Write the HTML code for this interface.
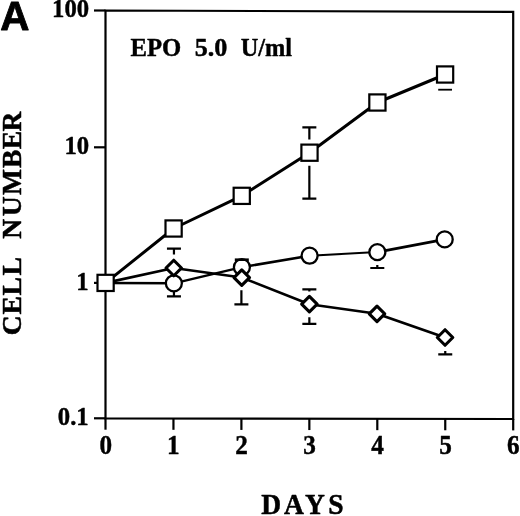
<!DOCTYPE html>
<html><head><meta charset="utf-8"><title>Figure A</title>
<style>html,body{margin:0;padding:0;background:#fff}svg{display:block}</style></head>
<body>
<svg width="520" height="516" viewBox="0 0 520 516">
<rect width="520" height="516" fill="#fff"/>
<polygon points="105.5,10.5 513.2,11.9 513.2,419.0 105.5,418.3" fill="none" stroke="#000" stroke-width="2.2"/>
<line x1="94" x2="105.5" y1="10.50" y2="10.50" stroke="#000" stroke-width="2.2"/>
<line x1="94" x2="105.5" y1="147.30" y2="147.30" stroke="#000" stroke-width="2.2"/>
<line x1="94" x2="105.5" y1="282.90" y2="282.90" stroke="#000" stroke-width="2.2"/>
<line x1="94" x2="105.5" y1="418.30" y2="418.30" stroke="#000" stroke-width="2.2"/>
<line x1="105.50" x2="105.50" y1="418.30" y2="429.70" stroke="#000" stroke-width="2.2"/>
<line x1="173.45" x2="173.45" y1="418.42" y2="429.82" stroke="#000" stroke-width="2.2"/>
<line x1="241.40" x2="241.40" y1="418.53" y2="429.93" stroke="#000" stroke-width="2.2"/>
<line x1="309.35" x2="309.35" y1="418.65" y2="430.05" stroke="#000" stroke-width="2.2"/>
<line x1="377.30" x2="377.30" y1="418.77" y2="430.17" stroke="#000" stroke-width="2.2"/>
<line x1="445.25" x2="445.25" y1="418.88" y2="430.28" stroke="#000" stroke-width="2.2"/>
<line x1="513.20" x2="513.20" y1="419.00" y2="430.40" stroke="#000" stroke-width="2.2"/>
<g font-family="'Liberation Serif', serif" font-weight="bold" font-size="24px" fill="#000" stroke="#000" stroke-width="0.4" stroke-linejoin="round">
<text transform="translate(52.09,17.20) scale(1.03,1.05)">100</text>
<text transform="translate(64.45,153.60) scale(1.03,1.05)">10</text>
<text transform="translate(76.37,289.70) scale(1.03,1.05)">1</text>
<text transform="translate(57.83,424.80) scale(1.03,1.05)">0.1</text>
<text transform="translate(99.40,453.60) scale(1.05,1.1)">0</text>
<text transform="translate(166.96,453.60) scale(1.05,1.1)">1</text>
<text transform="translate(235.30,453.60) scale(1.05,1.1)">2</text>
<text transform="translate(303.25,453.60) scale(1.05,1.1)">3</text>
<text transform="translate(371.20,453.60) scale(1.05,1.1)">4</text>
<text transform="translate(439.15,453.60) scale(1.05,1.1)">5</text>
<text transform="translate(506.97,453.60) scale(1.05,1.1)">6</text>
<text transform="translate(130.54,55.90) scale(1.03,1.04)">EPO</text>
<text transform="translate(194.68,55.90) scale(1.09,1.04)">5.0</text>
<text transform="translate(240.69,55.90) scale(1.015,1.04)">U/ml</text>
</g>
<g font-family="'Liberation Serif', serif" font-weight="bold" font-size="27.5px" fill="#000" stroke="#000" stroke-width="0.5" stroke-linejoin="round">
<text x="261.30 284.00 305.12 328.25" y="0" transform="translate(0,513.8) scale(1,1.05)">DAYS</text>
<text transform="translate(21.4,334.8) rotate(-90)" x="-0.55 20.25 39.33 59.28 82.00 95.95 118.50 139.82 166.75 185.50 203.25" y="0">CELL NUMBER</text>
</g>
<text transform="translate(0.34,29.64) scale(1.011,1.032)" font-family="'Liberation Sans', sans-serif" font-weight="bold" font-size="40px" stroke="#000" stroke-width="0.8" stroke-linejoin="round">A</text>
<path d="M166.95 248.60H180.95M173.95 248.60V254.50" stroke="#000" stroke-width="2.2" fill="none"/>
<path d="M166.95 296.30H180.95M173.95 296.30V289.00" stroke="#000" stroke-width="2.2" fill="none"/>
<path d="M234.40 304.40H248.40M241.40 304.40V290.30" stroke="#000" stroke-width="2.2" fill="none"/>
<path d="M302.35 127.30H316.35M309.35 127.30V139.40" stroke="#000" stroke-width="2.2" fill="none"/>
<path d="M302.35 198.70H316.35M309.35 198.70V165.70" stroke="#000" stroke-width="2.2" fill="none"/>
<path d="M302.35 289.30H316.35M309.35 289.30V291.40" stroke="#000" stroke-width="2.2" fill="none"/>
<path d="M302.35 323.90H316.35M309.35 323.90V317.20" stroke="#000" stroke-width="2.2" fill="none"/>
<path d="M370.30 268.00H384.30M377.30 268.00V265.00" stroke="#000" stroke-width="2.2" fill="none"/>
<path d="M438.2 89.7H452" stroke="#000" stroke-width="1.8" fill="none"/>
<path d="M438.25 354.40H452.25M445.25 354.40V350.90" stroke="#000" stroke-width="2.2" fill="none"/>
<line x1="105.60" y1="283.10" x2="173.85" y2="283.30" stroke="#000" stroke-width="2.5" stroke-linecap="round"/>
<line x1="173.85" y1="283.30" x2="241.90" y2="267.20" stroke="#000" stroke-width="2.4" stroke-linecap="round"/>
<line x1="241.90" y1="267.20" x2="309.60" y2="255.70" stroke="#000" stroke-width="2.6" stroke-linecap="round"/>
<line x1="309.60" y1="255.70" x2="377.35" y2="252.10" stroke="#000" stroke-width="2.0" stroke-linecap="round"/>
<line x1="377.35" y1="252.10" x2="444.70" y2="239.40" stroke="#000" stroke-width="2.8" stroke-linecap="round"/>
<circle cx="173.85" cy="283.30" r="8.0" fill="#fff" stroke="#000" stroke-width="2.3"/>
<circle cx="241.90" cy="267.20" r="8.0" fill="#fff" stroke="#000" stroke-width="2.3"/>
<circle cx="309.60" cy="255.70" r="8.0" fill="#fff" stroke="#000" stroke-width="2.3"/>
<circle cx="377.35" cy="252.10" r="8.0" fill="#fff" stroke="#000" stroke-width="2.3"/>
<circle cx="444.70" cy="239.40" r="8.0" fill="#fff" stroke="#000" stroke-width="2.3"/>
<path d="M234.8 259.7H248.8" stroke="#000" stroke-width="2.6" fill="none"/>
<line x1="105.60" y1="282.90" x2="173.75" y2="268.00" stroke="#000" stroke-width="2.8" stroke-linecap="round"/>
<line x1="173.75" y1="268.00" x2="241.75" y2="277.60" stroke="#000" stroke-width="2.5" stroke-linecap="round"/>
<line x1="241.75" y1="277.60" x2="309.40" y2="304.20" stroke="#000" stroke-width="2.6" stroke-linecap="round"/>
<line x1="309.40" y1="304.20" x2="377.00" y2="313.80" stroke="#000" stroke-width="2.4" stroke-linecap="round"/>
<line x1="377.00" y1="313.80" x2="445.05" y2="337.50" stroke="#000" stroke-width="2.8" stroke-linecap="round"/>
<path d="M173.75 260.25L181.50 268.00L173.75 275.75L166.00 268.00Z" fill="#fff" stroke="#000" stroke-width="3.1" stroke-linejoin="round"/>
<path d="M241.75 269.85L249.50 277.60L241.75 285.35L234.00 277.60Z" fill="#fff" stroke="#000" stroke-width="3.1" stroke-linejoin="round"/>
<path d="M309.40 296.45L317.15 304.20L309.40 311.95L301.65 304.20Z" fill="#fff" stroke="#000" stroke-width="3.1" stroke-linejoin="round"/>
<path d="M377.00 306.05L384.75 313.80L377.00 321.55L369.25 313.80Z" fill="#fff" stroke="#000" stroke-width="3.1" stroke-linejoin="round"/>
<path d="M445.05 329.75L452.80 337.50L445.05 345.25L437.30 337.50Z" fill="#fff" stroke="#000" stroke-width="3.1" stroke-linejoin="round"/>
<polyline points="105.60,282.90 173.60,228.50 241.75,195.85 309.50,152.70 377.40,102.50 445.10,74.50" fill="none" stroke="#000" stroke-width="3.0" stroke-linejoin="round"/>
<rect x="97.50" y="274.80" width="16.2" height="16.2" fill="#fff" stroke="#000" stroke-width="2.2"/>
<rect x="165.50" y="220.40" width="16.2" height="16.2" fill="#fff" stroke="#000" stroke-width="2.2"/>
<rect x="233.65" y="187.75" width="16.2" height="16.2" fill="#fff" stroke="#000" stroke-width="2.2"/>
<rect x="301.40" y="144.60" width="16.2" height="16.2" fill="#fff" stroke="#000" stroke-width="2.2"/>
<rect x="369.30" y="94.40" width="16.2" height="16.2" fill="#fff" stroke="#000" stroke-width="2.2"/>
<rect x="437.00" y="66.40" width="16.2" height="16.2" fill="#fff" stroke="#000" stroke-width="2.2"/>
</svg>
</body></html>
